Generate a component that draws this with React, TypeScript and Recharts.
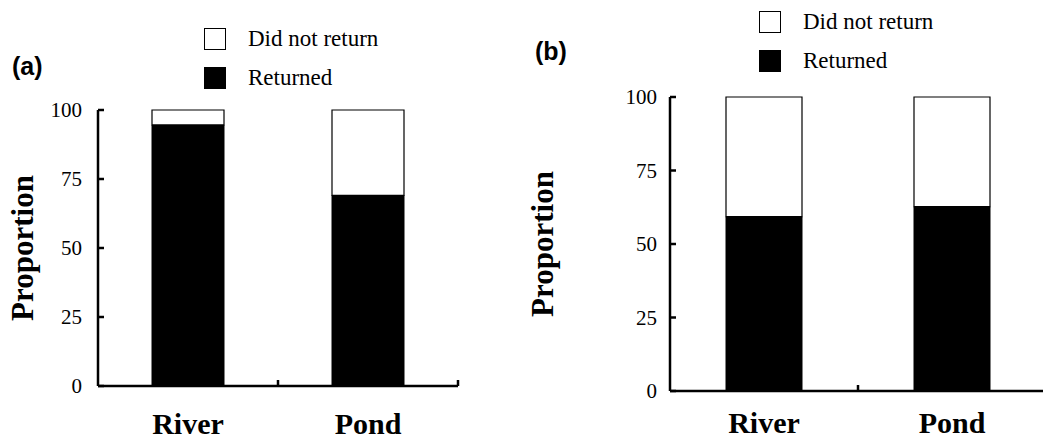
import { BarChart, Bar, XAxis, YAxis } from 'recharts';

const sites = ['River', 'Pond'];
const returnedA = [94.6, 69.1];
const notReturnedA = [5.4, 30.9];
const returnedB = [59.3, 62.7];
const notReturnedB = [40.7, 37.3];
const yTicks = [0, 25, 50, 75, 100];
const legendItems = [
  { label: 'Did not return', fill: '#fff' },
  { label: 'Returned', fill: '#000' },
];

const serif = '"Liberation Serif", "Times New Roman", serif';
const sans = '"Liberation Sans", Arial, sans-serif';

interface PanelProps {
  returned: number[];
  notReturned: number[];
  width: number;
  height: number;
  top: number;
  right: number;
  axisHeight: number;
  axisWidth: number;
  barSize: number;
  tickGap: number;
  labelDrop: number;
  legendLeft: number;
  legendTop: number;
}

function Panel({
  returned,
  notReturned,
  width,
  height,
  top,
  right,
  axisHeight,
  axisWidth,
  barSize,
  tickGap,
  labelDrop,
  legendLeft,
  legendTop,
}: PanelProps) {
  const data = sites.map((site, i) => ({
    site,
    returned: returned[i],
    notReturned: notReturned[i],
  }));
  const plotWidth = width - right - axisWidth;
  const halfBand = plotWidth / sites.length / 2;

  const renderYTick = (props: any) => {
    const { x, y, payload } = props;
    const axisX = x + tickGap;
    return (
      <g>
        <line x1={axisX} x2={axisX + 6} y1={y} y2={y} stroke="#000" strokeWidth={2.5} />
        <text x={x} y={y} dy={7} textAnchor="end" fontFamily={serif} fontSize={21} fill="#000">
          {payload.value}
        </text>
      </g>
    );
  };

  const renderXTick = (props: any) => {
    const { x, y, payload } = props;
    return (
      <g>
        <line x1={x + halfBand} x2={x + halfBand} y1={y} y2={y - 6} stroke="#000" strokeWidth={2.5} />
        <text x={x} y={y + labelDrop} textAnchor="middle" fontFamily={serif} fontWeight="bold" fontSize={30} fill="#000">
          {payload.value}
        </text>
      </g>
    );
  };

  return (
    <div style={{ position: 'relative', width, height }}>
      <BarChart
        width={width}
        height={height}
        data={data}
        margin={{ top, right, bottom: 0, left: 0 }}
        barCategoryGap={0}
      >
        <XAxis
          dataKey="site"
          axisLine={{ stroke: '#000', strokeWidth: 2.5 }}
          tickLine={false}
          tickSize={0}
          tickMargin={0}
          tick={renderXTick}
          interval={0}
          height={axisHeight}
        />
        <YAxis
          domain={[0, 100]}
          ticks={yTicks}
          width={axisWidth}
          axisLine={{ stroke: '#000', strokeWidth: 2.5 }}
          tickLine={false}
          tickSize={0}
          tickMargin={tickGap}
          tick={renderYTick}
          label={{
            content: (p: any) => {
              const vb = p.viewBox;
              const cx = vb.x + 22;
              const cy = vb.y + vb.height / 2;
              return (
                <text
                  x={cx}
                  y={cy}
                  transform={`rotate(-90 ${cx} ${cy})`}
                  textAnchor="middle"
                  dominantBaseline="central"
                  fontFamily={serif}
                  fontWeight="bold"
                  fontSize={31}
                  fill="#000"
                >
                  Proportion
                </text>
              );
            },
          }}
        />
        <Bar dataKey="returned" stackId="s" fill="#000" stroke="#000" strokeWidth={1} barSize={barSize} isAnimationActive={false} />
        <Bar dataKey="notReturned" stackId="s" fill="#fff" stroke="#000" strokeWidth={1.2} barSize={barSize} isAnimationActive={false} />
      </BarChart>
      <div style={{ position: 'absolute', left: legendLeft, top: legendTop, fontFamily: serif, fontSize: 23, color: '#000' }}>
        {legendItems.map((it) => (
          <div key={it.label} style={{ display: 'flex', alignItems: 'center', height: 39 }}>
            <span
              style={{
                display: 'inline-block',
                width: 20,
                height: 20,
                background: it.fill,
                border: '1.5px solid #000',
                marginRight: 22,
              }}
            />
            <span>{it.label}</span>
          </div>
        ))}
      </div>
    </div>
  );
}

export default function App() {
  return (
    <div
      style={{
        position: 'absolute',
        left: 0,
        top: 0,
        width: 1043,
        height: 439,
        overflow: 'hidden',
        background: '#fff',
      }}
    >
      <div style={{ position: 'absolute', left: 0, top: 0 }}>
        <Panel
          returned={returnedA}
          notReturned={notReturnedA}
          width={470}
          height={439}
          top={110}
          right={12}
          axisHeight={53}
          axisWidth={98}
          barSize={72}
          tickGap={16}
          labelDrop={48}
          legendLeft={204}
          legendTop={19}
        />
      </div>
      <div style={{ position: 'absolute', left: 520, top: 0 }}>
        <Panel
          returned={returnedB}
          notReturned={notReturnedB}
          width={530}
          height={439}
          top={97}
          right={4}
          axisHeight={48}
          axisWidth={150}
          barSize={76}
          tickGap={13}
          labelDrop={42}
          legendLeft={239}
          legendTop={2}
        />
      </div>
      <div style={{ position: 'absolute', left: 12, top: 52, fontFamily: sans, fontWeight: 'bold', fontSize: 25 }}>
        (a)
      </div>
      <div style={{ position: 'absolute', left: 535, top: 37, fontFamily: sans, fontWeight: 'bold', fontSize: 25 }}>
        (b)
      </div>
    </div>
  );
}
